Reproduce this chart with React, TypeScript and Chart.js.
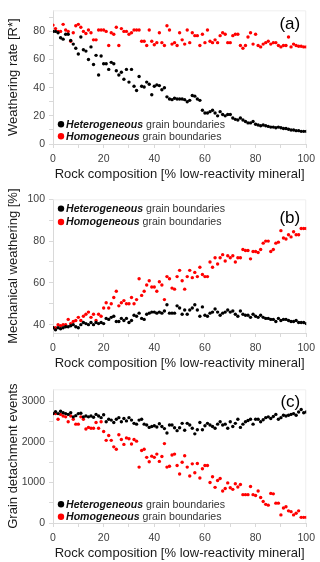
import React, { useEffect, useRef } from 'react';
import { Chart, registerables } from 'chart.js';

Chart.register(...registerables);

// ---------- data ----------
const composition = [
  0, 1, 2, 3, 4, 5, 6, 7, 8, 9,
  10, 11, 12, 13, 14, 15, 16, 17, 18, 19,
  20, 21, 22, 23, 24, 25, 26, 27, 28, 29,
  30, 31, 32, 33, 34, 35, 36, 37, 38, 39,
  40, 41, 42, 43, 44, 45, 46, 47, 48, 49,
  50, 51, 52, 53, 54, 55, 56, 57, 58, 59,
  60, 61, 62, 63, 64, 65, 66, 67, 68, 69,
  70, 71, 72, 73, 74, 75, 76, 77, 78, 79,
  80, 81, 82, 83, 84, 85, 86, 87, 88, 89,
  90, 91, 92, 93, 94, 95, 96, 97, 98, 99,
  100,
];

const weatheringHet = [
  80, 80, 79, 75.5, 74.5, 78, 78, 73.5, 71, 68,
  64, 76, 67, 66, 60, 69, 56.5, 63, 49, 62.5,
  57, 57, 53, 58, 57, 52, 49, 51, 46, 53,
  44, 53, 41, 38, 48, 41, 40.5, 44, 42.5, 35,
  41, 42, 41.5, 38.5, 40, 33.5, 32, 31.5, 32.5, 32,
  32, 32, 31.5, 30, 31, 34.5, 34, 32, 31, 24,
  22, 22, 23, 24, 22, 20, 23, 21, 20, 21,
  21, 18.5, 17.5, 17, 18.5, 17, 16, 15, 15, 16,
  14, 13.5, 13, 13.5, 13, 12.5, 12, 12, 11.5, 12,
  11.5, 11, 11, 10.5, 10, 10, 9.5, 9.5, 9, 9,
  9,
];
const weatheringHom = [
  84.5, 82, 80, 80, 85, 81, 80, 73, 79, 84,
  85, 83, 80, 78.5, 81, 79, 74, 74, 81, 81,
  81, 80, 70, 79, 78, 83, 70, 82, 80, 80,
  78, 79, 81, 81, 81, 73, 73, 70, 81, 73,
  70.5, 72, 79, 72, 70, 84, 81, 71, 72, 70,
  79, 74, 71, 81, 72, 79, 77, 77, 70, 78,
  72, 81, 73, 72, 74, 72, 77, 79, 78, 72,
  72, 77, 78, 78, 70, 68, 70, 76, 79, 71,
  78, 70, 69, 71, 72, 73, 71, 72, 72, 70,
  69, 70, 70, 76, 69, 71, 70, 69.5, 69.5, 69,
  69,
];

const mechHet = [
  38.5, 37.5, 38.5, 38, 38.5, 39, 39, 39.5, 40, 39,
  38.5, 40, 41, 40.5, 40, 41, 40, 41, 40.5, 41,
  40.5, 43, 42.5, 43.5, 44, 41.5, 41.5, 43, 42, 43,
  41, 42, 44.5, 44, 45.5, 43, 42.5, 45, 45.5, 46,
  46, 45.5, 46, 45.5, 46.5, 49.5, 45.5, 45.5, 45.5, 49,
  48, 45, 47, 45, 47, 48, 49.5, 47, 44, 48.5,
  44.5, 44, 45.5, 46, 47.5, 46, 44.5, 45.5, 46, 47,
  46, 46.5, 45, 44, 46.5, 45, 44.5, 44.5, 43.5, 45,
  44, 43.5, 44.5, 43.5, 43, 43, 42.5, 42.5, 41.5, 43,
  42, 42.5, 42.5, 42, 41.5, 41.5, 42, 41, 41, 41,
  40.5,
];
const mechHom = [
  38.5, 38.5, 40, 39.5, 40, 40, 42.5, 40.5, 41.5, 42,
  43.5, 42, 44, 45, 46, 43.5, 45, 42, 45, 44,
  48, 50.5, 48, 50, 53, 56, 49, 50.5, 51.5, 50,
  50, 53, 50, 52, 62, 54, 56, 59, 61, 58,
  58, 56, 60.5, 59, 52, 63, 62, 57.5, 57, 63,
  66, 61, 57, 63, 66, 62.5, 65, 63, 67.5, 64,
  63, 63, 70, 67.5, 72, 69, 72, 73.5, 70.5, 73,
  72, 73, 70, 72, 72, 76, 75.5, 75.5, 71.5, 75,
  75, 74.5, 76, 79, 80, 80, 75, 76, 79, 79.5,
  85, 81.5, 81, 83, 82, 84.5, 83, 83, 86, 86,
  86,
];

const detachHet = [
  2700, 2750, 2700, 2760, 2720, 2700, 2680, 2720, 2620, 2650,
  2700, 2710, 2620, 2640, 2620, 2640, 2610, 2680, 2640, 2600,
  2670, 2500, 2560, 2540, 2480, 2560, 2600, 2500, 2580, 2520,
  2600, 2540, 2460, 2440, 2540, 2560, 2440, 2420, 2360, 2380,
  2400, 2370, 2450, 2380, 2330, 2220, 2420, 2420, 2350, 2280,
  2350, 2460, 2290, 2460, 2420, 2340, 2200, 2300, 2480, 2300,
  2400, 2460, 2420, 2380, 2340, 2440, 2500, 2420, 2440, 2340,
  2500, 2380, 2460, 2560, 2360, 2440, 2500, 2530, 2560, 2440,
  2560, 2560, 2500, 2550, 2600, 2620, 2580, 2630, 2680, 2560,
  2600, 2660, 2640, 2660, 2680, 2700, 2660, 2740, 2800, 2720,
  2740,
];
const detachHom = [
  2700, 2700, 2560, 2680, 2640, 2620, 2500, 2640, 2560, 2440,
  2440, 2620, 2560, 2320, 2360, 2340, 2340, 2480, 2340, 2500,
  2260, 2040, 2160, 2040, 1880, 1820, 2180, 2060, 1940, 2100,
  2080, 1950, 2060, 2020, 1380, 1790, 1820, 1620, 1510, 1650,
  1620, 1700, 1520, 1640, 1960, 1380, 1400, 1680, 1700, 1420,
  1210, 1500, 1660, 1380, 1160, 1460, 1240, 1470, 1110, 1340,
  1420, 1420, 1000, 1140, 880, 1050, 1100, 790, 850, 990,
  870, 830, 970, 890, 950, 700, 700, 700, 900, 700,
  680, 790, 630, 530, 460, 440, 730, 720, 490, 490,
  200, 370, 400, 300, 280, 200, 240, 300, 140, 140,
  140,
];

const xTickMarks = [0, 10, 20, 30, 40, 50, 60, 70, 80, 90, 100];
const xTickLabels = [0, 20, 40, 60, 80, 100];
const xTitle = 'Rock composition [% low-reactivity mineral]';

const aTickMarks = [0, 10, 20, 30, 40, 50, 60, 70, 80, 90];
const aTickLabels = [0, 20, 40, 60, 80];
const bTickMarks = [40, 50, 60, 70, 80, 90, 100];
const bTickLabels = [40, 60, 80, 100];
const cTickMarks = [0, 500, 1000, 1500, 2000, 2500, 3000];
const cTickLabels = [0, 1000, 2000, 3000];

const legendBold = ['Heterogeneous', 'Homogeneous'];
const legendRest = ' grain boundaries';

// ---------- styling ----------
const FONT = '"Liberation Sans", Arial, sans-serif';
const AXIS_COLOR = '#d9d9d9';
const BLACK = '#000000';
const RED = '#ff0000';
const W = 320;
const H = 190;

type PanelDef = {
  het: number[];
  hom: number[];
  yTitle: string;
  yMin: number;
  yMax: number;
  yMarks: number[];
  yLabels: number[];
  tag: string;
  tagDy: number;
  legendTop: boolean;
  legendDy: number[];
};

const overlayPlugin = {
  id: 'overlay',
  beforeDatasetsDraw(chart: any) {
    const { ctx, chartArea: a } = chart;
    ctx.save();
    ctx.strokeStyle = '#efefef';
    ctx.lineWidth = 1;
    ctx.beginPath();
    ctx.moveTo(a.left, a.top + 0.5);
    ctx.lineTo(a.right - 0.5, a.top + 0.5);
    ctx.lineTo(a.right - 0.5, a.bottom);
    ctx.stroke();
    ctx.restore();
  },
  afterDraw(chart: any, _args: any, opts: any) {
    const { ctx, chartArea: a } = chart;
    ctx.save();
    ctx.font = `17px ${FONT}`;
    ctx.fillStyle = '#000';
    ctx.textAlign = 'right';
    ctx.textBaseline = 'middle';
    ctx.fillText(opts.tag, a.right - 6, a.top + opts.tagDy);

    const base = opts.legendTop ? a.top : a.bottom;
    const rowsY = opts.legendDy.map((d: number) => base + d);
    const colors = [BLACK, RED];
    for (let i = 0; i < 2; i++) {
      const x = a.left + 8;
      const y = rowsY[i];
      ctx.fillStyle = colors[i];
      ctx.beginPath();
      ctx.arc(x, y, 3.2, 0, Math.PI * 2);
      ctx.fill();
      ctx.textAlign = 'left';
      ctx.textBaseline = 'middle';
      ctx.font = `italic bold 10.6px ${FONT}`;
      ctx.fillStyle = '#111';
      ctx.fillText(legendBold[i], x + 5, y + 0.5);
      const w = ctx.measureText(legendBold[i]).width;
      ctx.font = `10.6px ${FONT}`;
      ctx.fillStyle = '#333';
      ctx.fillText(legendRest, x + 5 + w, y + 0.5);
    }
    ctx.restore();
  },
};

function buildConfig(p: PanelDef): any {
  const mk = (ys: number[]) => composition.map((x, i) => ({ x, y: ys[i] }));
  return {
    type: 'scatter',
    data: {
      datasets: [
        {
          label: 'Heterogeneous grain boundaries',
          data: mk(p.het),
          backgroundColor: BLACK,
          borderColor: BLACK,
          borderWidth: 0,
          pointRadius: 1.7,
        },
        {
          label: 'Homogeneous grain boundaries',
          data: mk(p.hom),
          backgroundColor: RED,
          borderColor: RED,
          borderWidth: 0,
          pointRadius: 1.7,
        },
      ],
    },
    options: {
      animation: false,
      responsive: false,
      layout: { padding: { top: 6, right: 10, left: 0, bottom: 0 } },
      plugins: {
        legend: { display: false },
        tooltip: { enabled: false },
        overlay: { tag: p.tag, tagDy: p.tagDy, legendTop: p.legendTop, legendDy: p.legendDy },
      },
      scales: {
        x: {
          type: 'linear',
          min: 0,
          max: 100,
          afterBuildTicks: (s: any) => {
            s.ticks = xTickMarks.map((v) => ({ value: v }));
          },
          afterFit: (s: any) => {
            s.height = H - 6 - 138;
          },
          ticks: {
            autoSkip: false,
            maxRotation: 0,
            padding: 5,
            color: '#404040',
            font: { family: FONT, size: 10.5 },
            callback: (v: number) => (xTickLabels.includes(v) ? String(v) : ''),
          },
          grid: {
            display: true,
            drawOnChartArea: false,
            drawTicks: true,
            tickLength: 4,
            color: AXIS_COLOR,
          },
          border: { display: true, color: AXIS_COLOR },
          title: {
            display: true,
            text: xTitle,
            color: '#1a1a1a',
            font: { family: FONT, size: 13 },
            padding: { top: 0, bottom: 8 },
          },
        },
        y: {
          type: 'linear',
          min: p.yMin,
          max: p.yMax,
          afterBuildTicks: (s: any) => {
            s.ticks = p.yMarks.map((v) => ({ value: v }));
          },
          afterFit: (s: any) => {
            s.width = 53;
          },
          ticks: {
            autoSkip: false,
            padding: 4,
            color: '#404040',
            font: { family: FONT, size: 10.5 },
            callback: (v: number) => (p.yLabels.includes(v) ? String(v) : ''),
          },
          grid: {
            display: true,
            drawOnChartArea: false,
            drawTicks: true,
            tickLength: 4,
            color: AXIS_COLOR,
          },
          border: { display: true, color: AXIS_COLOR },
          title: {
            display: true,
            text: p.yTitle,
            color: '#1a1a1a',
            font: { family: FONT, size: 13 },
            padding: { top: 6, bottom: 0 },
          },
        },
      },
    },
    plugins: [overlayPlugin],
  };
}

const panels: PanelDef[] = [
  {
    het: weatheringHet,
    hom: weatheringHom,
    yTitle: 'Weathering rate [R*]',
    yMin: 0,
    yMax: 95,
    yMarks: aTickMarks,
    yLabels: aTickLabels,
    tag: '(a)',
    tagDy: 14,
    legendTop: false,
    legendDy: [-19.7, -7.7],
  },
  {
    het: mechHet,
    hom: mechHom,
    yTitle: 'Mechanical weathering [%]',
    yMin: 36,
    yMax: 100,
    yMarks: bTickMarks,
    yLabels: bTickLabels,
    tag: '(b)',
    tagDy: 19,
    legendTop: true,
    legendDy: [9.3, 22.7],
  },
  {
    het: detachHet,
    hom: detachHom,
    yTitle: 'Grain detachment events',
    yMin: 0,
    yMax: 3300,
    yMarks: cTickMarks,
    yLabels: cTickLabels,
    tag: '(c)',
    tagDy: 13.5,
    legendTop: false,
    legendDy: [-18.7, -6.3],
  },
];

function Panel({ def }: { def: PanelDef }) {
  const ref = useRef<HTMLCanvasElement | null>(null);
  useEffect(() => {
    if (!ref.current) return;
    const chart = new Chart(ref.current, buildConfig(def));
    return () => chart.destroy();
  }, [def]);
  return <canvas ref={ref} width={W} height={H} style={{ display: 'block', width: W, height: H }} />;
}

const tops = [0, 189, 379];

export default function App() {
  return (
    <div
      style={{
        position: 'fixed',
        left: 0,
        top: 0,
        width: W,
        height: 562,
        overflow: 'hidden',
        background: '#fff',
      }}
    >
      {panels.map((p, i) => (
        <div key={p.tag} style={{ position: 'absolute', left: 0, top: tops[i], width: W, height: H }}>
          <Panel def={p} />
        </div>
      ))}
    </div>
  );
}
